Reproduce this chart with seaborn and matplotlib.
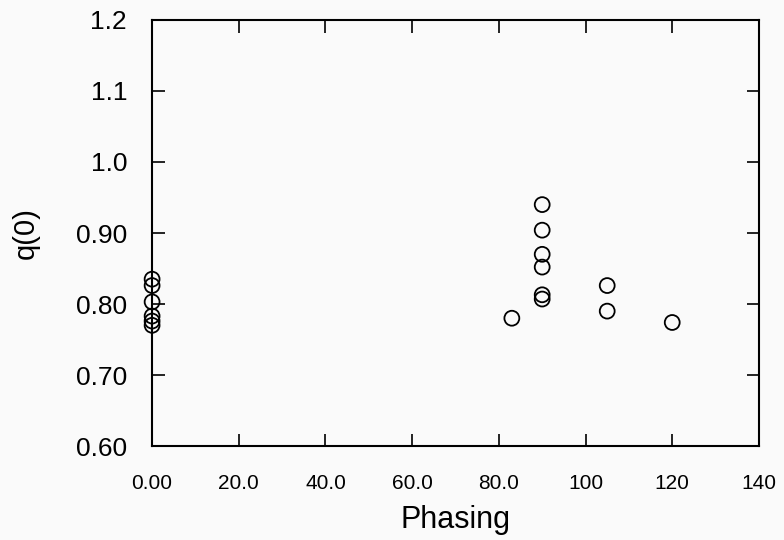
import matplotlib
matplotlib.use('Agg')
import matplotlib.pyplot as plt
import seaborn as sns
import pandas as pd

# data
phasing = [0, 0, 0, 0, 0, 0,
           90, 90, 90, 90, 90, 90, 83,
           105, 105, 120]
q0 = [0.835, 0.826, 0.803, 0.783, 0.776, 0.770,
      0.940, 0.904, 0.870, 0.852, 0.813, 0.807, 0.780,
      0.826, 0.790, 0.774]

x_ticks = [0, 20, 40, 60, 80, 100, 120, 140]
x_labels = ['0.00', '20.0', '40.0', '60.0', '80.0', '100', '120', '140']
y_ticks = [0.6, 0.7, 0.8, 0.9, 1.0, 1.1, 1.2]
y_labels = ['0.60', '0.70', '0.80', '0.90', '1.0', '1.1', '1.2']

df = pd.DataFrame({'Phasing': phasing, 'q0': q0})

sns.set_style('ticks')
plt.rcParams['font.family'] = ['Liberation Sans', 'DejaVu Sans']
plt.rcParams['text.color'] = 'black'
plt.rcParams['axes.labelcolor'] = 'black'
plt.rcParams['xtick.color'] = 'black'
plt.rcParams['ytick.color'] = 'black'

fig = plt.figure(figsize=(7.84, 5.40), dpi=100, facecolor='#fafafa')
ax = fig.add_axes([0.194, 0.174, 0.774, 0.789])
ax.set_facecolor('#fafafa')

sns.scatterplot(data=df, x='Phasing', y='q0', ax=ax, s=115,
                facecolor='none', edgecolor='black', linewidth=1.3,
                clip_on=False)

ax.set_xlim(0, 140)
ax.set_ylim(0.6, 1.2)
ax.set_xticks(x_ticks)
ax.set_xticklabels(x_labels, fontsize=15)
ax.set_yticks(y_ticks)
ax.set_yticklabels(y_labels, fontsize=19)
ax.tick_params(direction='in', length=9, width=1.2, top=True, right=True)
ax.tick_params(axis='y', pad=18)
ax.tick_params(axis='x', pad=20)
for sp in ax.spines.values():
    sp.set_linewidth(1.5)
    sp.set_color('black')

ax.set_xlabel('Phasing', fontsize=22, labelpad=9)
ax.set_ylabel('q(0)', fontsize=21, labelpad=26)

plt.savefig('out.png', dpi=100, facecolor=fig.get_facecolor())
plt.close()
